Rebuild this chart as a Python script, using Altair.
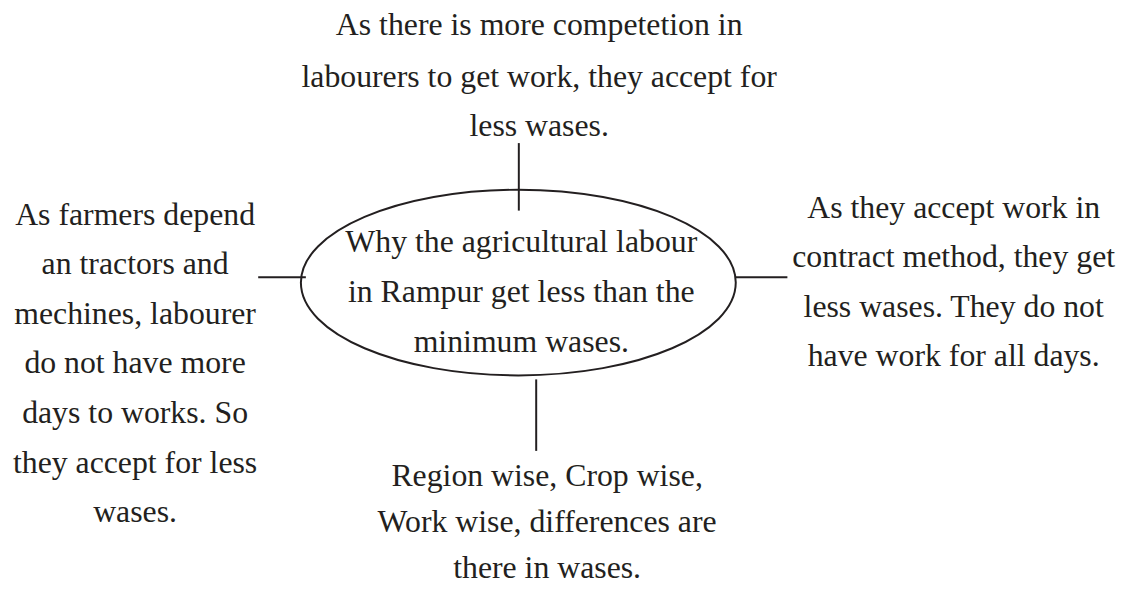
import altair as alt
import pandas as pd

# ---- text content ----
top_lines = ["As there is more competetion in",
             "labourers to get work, they accept for",
             "less wases."]
left_lines = ["As farmers depend", "an tractors and", "mechines, labourer",
              "do not have more", "days to works. So", "they accept for less",
              "wases."]
right_lines = ["As they accept work in", "contract method, they get",
               "less wases. They do not", "have work for all days."]
bottom_lines = ["Region wise, Crop wise,", "Work wise, differences are",
                "there in wases."]
center_lines = ["Why the agricultural labour", "in Rampur get less than the",
                "minimum wases."]

# ---- layout (page pixel coordinates) ----
blocks = [
    (top_lines, 543, [33, 85, 135]),
    (left_lines, 136, [224, 274, 324, 374, 424, 474, 524]),
    (right_lines, 960.5, [217, 267, 317, 367]),
    (bottom_lines, 551, [487, 534, 580]),
    (center_lines, 525, [252, 302, 352]),
]
rows = []
for lines, cx, ys in blocks:
    for t, y in zip(lines, ys):
        rows.append({"x": cx, "y": y, "text": t})
text_df = pd.DataFrame(rows)

connectors = pd.DataFrame({
    "x": [522.5, 260, 741, 540],
    "x2": [522.5, 308, 793, 540],
    "y": [142, 277, 277, 380],
    "y2": [210, 277, 277, 452],
})

ellipse_df = pd.DataFrame({"x": [522], "y": [282.5]})
RX, RY = 219, 93.5

W, H = 1119, 576
xs = alt.Scale(domain=[8, 8 + W], nice=False, zero=False)
ys = alt.Scale(domain=[8, 8 + H], nice=False, zero=False, reverse=True)

INK = "#231f20"
FONT = "Liberation Serif"

ratio = RY / RX
shape = f"M-1,0A1,{ratio:.4f} 0 1,1 1,0A1,{ratio:.4f} 0 1,1 -1,0Z"

ellipse = alt.Chart(ellipse_df).mark_point(
    shape=shape, filled=False, stroke=INK, strokeWidth=2, opacity=1
).encode(
    x=alt.X("x:Q", scale=xs, axis=None),
    y=alt.Y("y:Q", scale=ys, axis=None),
    size=alt.value((2 * RX) ** 2),
)

rules = alt.Chart(connectors).mark_rule(color=INK, strokeWidth=2).encode(
    x=alt.X("x:Q", scale=xs, axis=None),
    x2="x2:Q",
    y=alt.Y("y:Q", scale=ys, axis=None),
    y2="y2:Q",
)

texts = alt.Chart(text_df).mark_text(
    font=FONT, fontSize=32, color=INK, align="center", baseline="alphabetic"
).encode(
    x=alt.X("x:Q", scale=xs, axis=None),
    y=alt.Y("y:Q", scale=ys, axis=None),
    text="text:N",
)

chart = alt.layer(rules, ellipse, texts).properties(
    width=W, height=H, padding=0, background="white",
    autosize=alt.AutoSizeParams(type="none")
).configure_view(stroke=None, strokeWidth=0)

chart.save("out.html", embed_options={"renderer": "svg", "actions": False})
